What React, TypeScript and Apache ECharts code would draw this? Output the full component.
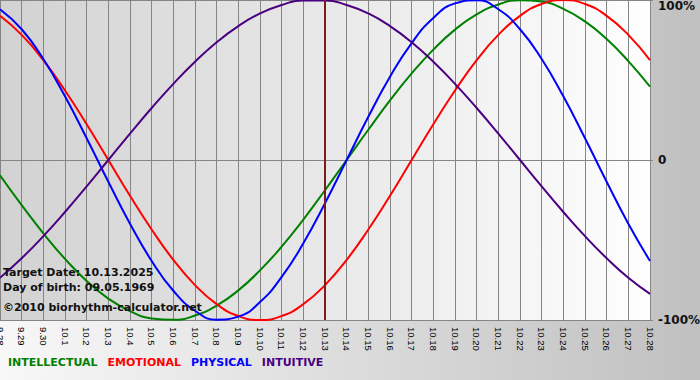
import React, { useEffect, useRef } from 'react';
import * as echarts from 'echarts';

const categories = [
  '9.28', '9.29', '9.30', '10.1', '10.2', '10.3', '10.4', '10.5', '10.6', '10.7', '10.8',
  '10.9', '10.10', '10.11', '10.12', '10.13', '10.14', '10.15', '10.16', '10.17', '10.18',
  '10.19', '10.20', '10.21', '10.22', '10.23', '10.24', '10.25', '10.26', '10.27', '10.28',
];

const intellectual = [
  -9.5, -28.2, -45.8, -61.8, -75.6, -86.6, -94.5, -99.0, -99.9, -97.2, -91.0,
  -81.5, -69.0, -54.1, -37.2, -18.9, 0, 18.9, 37.2, 54.1, 69.0,
  81.5, 91.0, 97.2, 99.9, 99.0, 94.5, 86.6, 75.6, 61.8, 45.8,
];
const emotional = [
  90.1, 78.2, 62.4, 43.4, 22.3, 0, -22.3, -43.4, -62.4, -78.2, -90.1,
  -97.5, -100, -97.5, -90.1, -78.2, -62.4, -43.4, -22.3, 0, 22.3,
  43.4, 62.4, 78.2, 90.1, 97.5, 100, 97.5, 90.1, 78.2, 62.4,
];
const physical = [
  94.2, 81.7, 63.1, 39.8, 13.6, -13.6, -39.8, -63.1, -81.7, -94.2, -99.8,
  -97.9, -88.8, -73.1, -52.0, -27.0, 0, 27.0, 52.0, 73.1, 88.8,
  97.9, 99.8, 94.2, 81.7, 63.1, 39.8, 13.6, -13.6, -39.8, -63.1,
];
const intuitive = [
  -73.6, -61.4, -47.6, -32.5, -16.5, 0, 16.5, 32.5, 47.6, 61.4, 73.6,
  83.7, 91.6, 96.9, 99.7, 99.7, 96.9, 91.6, 83.7, 73.6, 61.4,
  47.6, 32.5, 16.5, 0, -16.5, -32.5, -47.6, -61.4, -73.6, -83.7,
];

const seriesNames = ['INTELLECTUAL', 'EMOTIONAL', 'PHYSICAL', 'INTUITIVE'];
const seriesColors = ['#008000', '#ff0000', '#0000ff', '#4b0082'];
const seriesData = [intellectual, emotional, physical, intuitive];

const targetDay = '10.13';
const infoLines = [
  'Target Date: 10.13.2025',
  'Day of birth: 09.05.1969',
  '\u00a92010 biorhythm-calculator.net',
];

export default function App() {
  const ref = useRef<HTMLDivElement>(null);
  useEffect(() => {
    const chart = echarts.init(ref.current!, null, { renderer: 'svg' });
    const gridLine = '#858585';
    chart.setOption({
      animation: false,
      grid: {
        left: 0,
        right: 50,
        top: 0,
        bottom: 60,
        show: true,
        borderWidth: 0,
        containLabel: false,
        outerBoundsMode: 'none',
        backgroundColor: new echarts.graphic.LinearGradient(0, 0, 1, 0, [
          { offset: 0, color: '#d2d2d2' },
          { offset: 1, color: '#fefefe' },
        ]),
      },
      legend: {
        left: -2,
        top: 352,
        itemWidth: 0,
        itemHeight: 0,
        itemGap: 5,
        selectedMode: false,
        data: seriesNames.map((n, i) => ({
          name: n,
          icon: 'rect',
          textStyle: { color: seriesColors[i] },
        })),
        textStyle: { fontFamily: 'DejaVu Sans', fontWeight: 'bold', fontSize: 11 },
      },
      xAxis: {
        type: 'category',
        data: categories,
        boundaryGap: false,
        axisLine: { show: true, lineStyle: { color: gridLine } },
        axisTick: { show: true, length: 5, lineStyle: { color: gridLine } },
        axisLabel: {
          interval: 0,
          rotate: -90,
          margin: 7,
          fontSize: 9.5,
          fontFamily: 'Liberation Sans',
          color: '#000',
        },
        splitLine: { show: true, lineStyle: { color: gridLine, width: 1 } },
      },
      yAxis: {
        type: 'value',
        position: 'right',
        min: -100,
        max: 100,
        interval: 100,
        axisLine: { show: false },
        axisTick: { show: true, length: 3, lineStyle: { color: gridLine } },
        axisLabel: {
          margin: 8,
          fontSize: 12,
          fontWeight: 'bold',
          fontFamily: 'DejaVu Sans',
          color: '#111',
          verticalAlignMaxLabel: 'top',
          formatter: (v: number) => (v === 0 ? '0' : v + '%'),
        },
        splitLine: { show: true, lineStyle: { color: gridLine, width: 1 } },
      },
      graphic: infoLines.map((t, i) => ({
        type: 'text',
        x: 3,
        y: [272, 287, 307][i],
        z: 10,
        style: {
          text: t,
          font: 'bold 11px "DejaVu Sans"',
          fill: '#111',
          verticalAlign: 'middle',
        },
      })),
      series: seriesNames.map((n, i) => ({
        name: n,
        type: 'line',
        data: seriesData[i],
        smooth: 0.5,
        showSymbol: false,
        symbol: 'none',
        color: seriesColors[i],
        lineStyle: { color: seriesColors[i], width: 2 },
        emphasis: { disabled: true },
        markLine:
          i === 0
            ? {
                silent: true,
                symbol: ['none', 'none'],
                label: { show: false },
                lineStyle: { color: '#7a1c1c', width: 2, type: 'solid' },
                data: [{ xAxis: targetDay }],
              }
            : undefined,
      })),
    });
    return () => chart.dispose();
  }, []);
  return (
    <div
      ref={ref}
      style={{
        position: 'fixed',
        left: 0,
        top: 0,
        width: 700,
        height: 380,
        background: 'linear-gradient(to right, #f8f8f8, #c0c0c0)',
      }}
    />
  );
}
